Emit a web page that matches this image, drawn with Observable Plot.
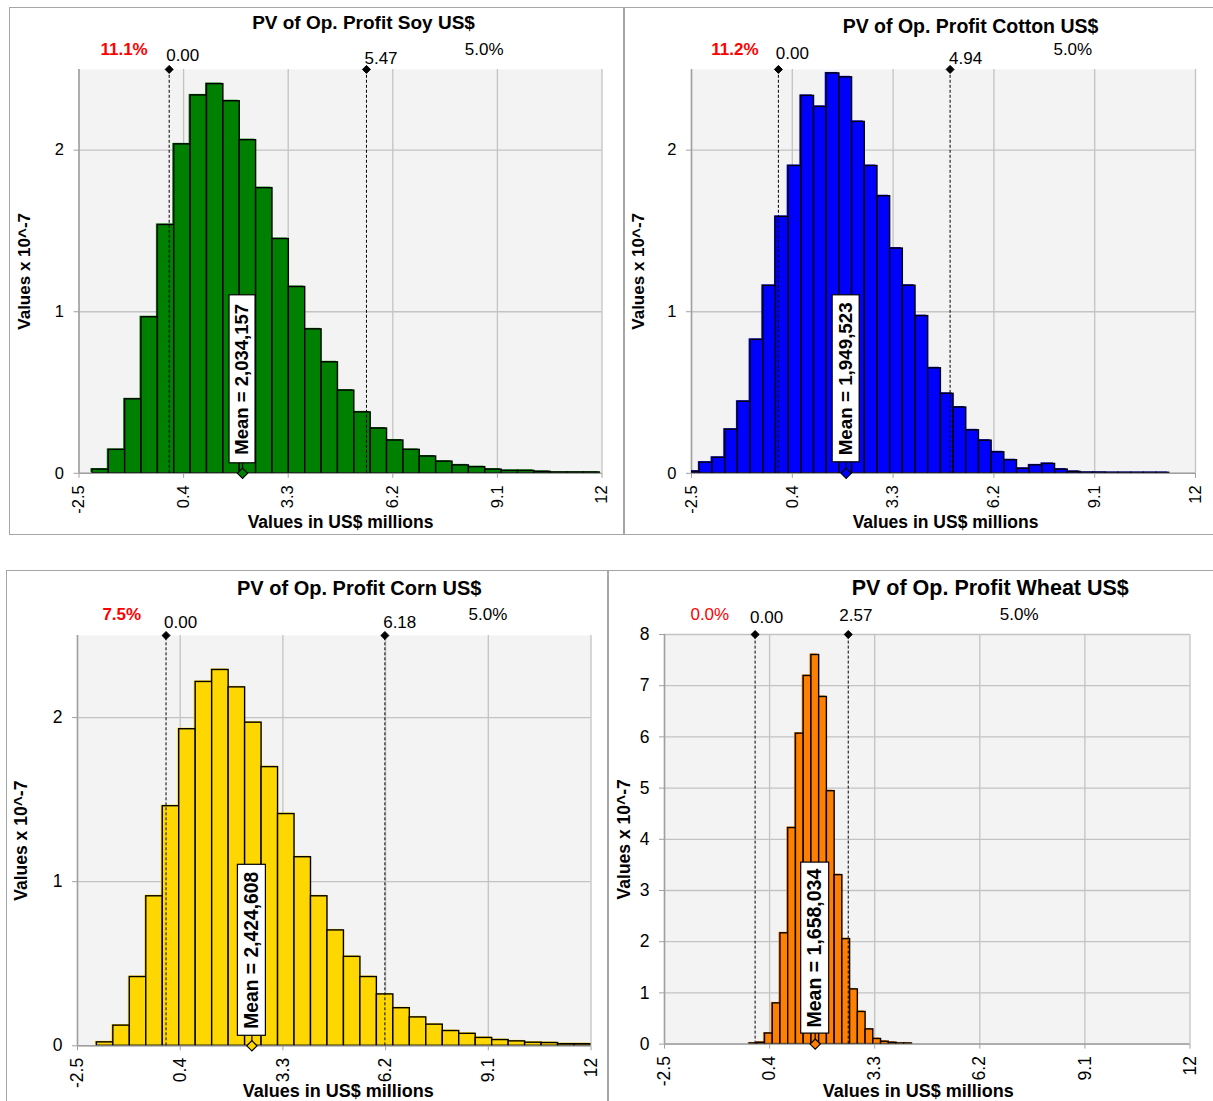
<!DOCTYPE html>
<html>
<head>
<meta charset="utf-8">
<script src="https://cdn.jsdelivr.net/npm/d3@7"></script>
<script src="https://cdn.jsdelivr.net/npm/@observablehq/plot@0.6"></script>
<style>
html, body { margin: 0; padding: 0; background: #fff; overflow: hidden; }
#root { position: relative; width: 1213px; height: 1101px; font-family: Arial, "Liberation Sans", sans-serif; overflow: hidden; }
.holder { position: absolute; }
.holder svg { overflow: visible; }
.border { position: absolute; box-sizing: border-box; border: 1.5px solid #a6a6a6; pointer-events: none; }
</style>
</head>
<body>
<div id="root"></div>
<script>
// ---------------- DATA ----------------
const xTicks = [-2.5, 0.4, 3.3, 6.2, 9.1, 12];
const xTickLabels = ["-2.5", "0.4", "3.3", "6.2", "9.1", "12"];

const titles = [
  "PV of Op. Profit Soy US$",
  "PV of Op. Profit Cotton US$",
  "PV of Op. Profit Corn US$",
  "PV of Op. Profit Wheat US$"
];
const xLabel = "Values in US$ millions";
const yLabel = "Values x 10^-7";

// histogram bar heights (values x 10^-7)
const soyHeights = [0.023, 0.145, 0.458, 0.966, 1.537, 2.036, 2.339, 2.409, 2.303, 2.062, 1.765, 1.450, 1.153, 0.891, 0.687, 0.512, 0.377, 0.277, 0.203, 0.145, 0.104, 0.072, 0.049, 0.038, 0.023, 0.015, 0.015, 0.009, 0.005, 0.005, 0.005];
const cottonHeights = [0.010, 0.066, 0.096, 0.270, 0.443, 0.826, 1.160, 1.587, 1.902, 2.336, 2.268, 2.475, 2.451, 2.175, 1.902, 1.715, 1.391, 1.161, 0.973, 0.650, 0.492, 0.407, 0.266, 0.202, 0.130, 0.081, 0.028, 0.049, 0.058, 0.023, 0.009, 0.004, 0.004, 0.003, 0.003, 0.003, 0.003, 0.003];
const cornHeights = [0.021, 0.123, 0.419, 0.911, 1.460, 1.929, 2.217, 2.290, 2.184, 1.969, 1.698, 1.412, 1.149, 0.911, 0.703, 0.542, 0.419, 0.313, 0.229, 0.173, 0.129, 0.090, 0.073, 0.048, 0.035, 0.027, 0.019, 0.017, 0.010, 0.010];
const wheatHeights = [0.013, 0.027, 0.207, 0.795, 2.164, 4.220, 6.063, 7.190, 7.600, 6.780, 4.940, 3.300, 2.050, 1.068, 0.628, 0.287, 0.100, 0.047, 0.027, 0.013, 0.013];

// first bin lower edge and bin width (US$ millions)
const binStarts = [-2.128, -2.625, -1.953, -0.154];
const binWidths = [0.4538, 0.365, 0.4651, 0.2135];

const means = [2034157, 1949523, 2424608, 1658034];
const lowerCuts = [0.00, 0.00, 0.00, 0.00];
const upperCuts = [5.47, 4.94, 6.18, 2.57];
const leftPcts = ["11.1%", "11.2%", "7.5%", "0.0%"];
const rightPcts = ["5.0%", "5.0%", "5.0%", "5.0%"];
const yMaxes = [2.5, 2.5, 2.5, 8];
const yTickSets = [[0, 1, 2], [0, 1, 2], [0, 1, 2], [0, 1, 2, 3, 4, 5, 6, 7, 8]];

const heightSets = [soyHeights, cottonHeights, cornHeights, wheatHeights];

// ---------------- STYLE / LAYOUT ----------------
const colors = ["#008000", "#0000ff", "#ffd700", "#ff8000"];
const layout = [
  {svg: [9, 7, 615, 528], plot: [78.5, 601.5, 68.9, 472.8], border: [9, 7, 615, 528],
   titleSize: 19, titleDx: 23, titleDy: -40, pctDy: -14.4, loDx: -3, loDy: -8, hiDx: -2, hiDy: -5, pctBold: true,
   tickFont: 16.5, yLabDx: -54.5, yLabSize: 17, xLabSize: 17.5, xLabDx: 0, xLabDy: 55,
   meanFont: 18.5, boxW: 26, boxH: 168, boxGap: 10},
  {svg: [624, 7, 589, 528], plot: [691, 1195, 68.9, 472.8], border: [624, 7, 600, 528],
   titleSize: 19.5, titleDx: 27, titleDy: -36, pctDy: -14.4, loDx: -2.6, loDy: -10.4, hiDx: -1, hiDy: -5.2, pctBold: true,
   tickFont: 16.5, yLabDx: -53, yLabSize: 17, xLabSize: 17.5, xLabDx: 2, xLabDy: 55,
   meanFont: 18.8, boxW: 27, boxH: 167, boxGap: 11},
  {svg: [6, 570, 602, 531], plot: [77, 590.5, 635, 1045.3], border: [6, 570, 602, 540],
   titleSize: 20, titleDx: 25, titleDy: -40.3, pctDy: -15.3, loDx: -2, loDy: -7.4, hiDx: -1.7, hiDy: -7.4, pctBold: true,
   tickFont: 17.5, yLabDx: -56.6, yLabSize: 17.5, xLabSize: 18, xLabDx: 4, xLabDy: 51,
   meanFont: 19.3, boxW: 28, boxH: 171, boxGap: 10},
  {svg: [608, 570, 605, 531], plot: [664, 1189.5, 634, 1043.6], border: [608, 570, 610, 540],
   titleSize: 21.5, titleDx: 63, titleDy: -40, pctDy: -15, loDx: -5, loDy: -11.6, hiDx: -9, hiDy: -13.6, pctBold: false,
   tickFont: 17.5, yLabDx: -40.6, yLabSize: 17.5, xLabSize: 18, xLabDx: -9, xLabDy: 52.5,
   meanFont: 19.5, boxW: 28, boxH: 171, boxGap: 10.5}
];
const FONT = "Arial, 'Liberation Sans', sans-serif";
const gridColor = "#c3c3c3";
const axisColor = "#a0a0a0";
const plotBg = "#f3f3f3";

const root = document.getElementById("root");
const fmtComma = d3.format(",");
const fmt2 = d3.format(".2f");

function makePanel(i) {
  const L = layout[i];
  const [sx, sy, sw, sh] = L.svg;
  const [pl, pr, pt, pb] = L.plot;
  const color = colors[i];
  const start = binStarts[i], bw = binWidths[i];
  const bins = heightSets[i].map((h, k) => ({x0: start + k * bw, x1: start + (k + 1) * bw, h}));
  const xMin = xTicks[0], xMax = xTicks[xTicks.length - 1];
  const yMax = yMaxes[i];
  const lo = lowerCuts[i], hi = upperCuts[i];
  const mean = means[i] / 1e6;
  const meanText = "Mean = " + fmtComma(means[i]);

  const chart = Plot.plot({
    width: sw, height: sh,
    marginLeft: pl - sx, marginRight: sx + sw - pr,
    marginTop: pt - sy, marginBottom: sy + sh - pb,
    style: {fontFamily: FONT, background: "transparent", overflow: "visible", color: "black"},
    x: {domain: [xMin, xMax]},
    y: {domain: [0, yMax]},
    marks: [
      Plot.frame({fill: plotBg, stroke: "none"}),
      Plot.ruleX(xTicks, {x: d => d, stroke: gridColor, strokeWidth: 1.3}),
      Plot.ruleY(yTickSets[i], {y: d => d, stroke: gridColor, strokeWidth: 1.3}),
      Plot.ruleX([xMin], {x: d => d, stroke: axisColor, strokeWidth: 1.5}),
      Plot.ruleY([0], {y: d => d, stroke: axisColor, strokeWidth: 1.5}),
      Plot.axisX({ticks: xTicks, tickFormat: d => xTickLabels[xTicks.indexOf(d)], tickRotate: -90,
        tickSize: 5, tickPadding: 7, label: null, stroke: axisColor, fill: "black", fontSize: L.tickFont}),
      Plot.axisY({ticks: yTickSets[i], tickFormat: d => String(d), tickSize: 5, tickPadding: 10,
        label: null, stroke: axisColor, fill: "black", fontSize: L.tickFont}),
      // bars: shadow fill then outlined bar
      Plot.rect(bins, {x1: "x0", x2: "x1", y1: 0, y2: "h", fill: color, dx: -1.5, dy: -1, clip: true}),
      Plot.rect(bins, {x1: "x0", x2: "x1", y1: 0, y2: "h", fill: color, stroke: "black", strokeWidth: 1.4, clip: true}),
      // cut-off lines
      Plot.ruleX([lo, hi], {x: d => d, y1: 0, y2: yMax, stroke: "black", strokeWidth: 1, strokeDasharray: "3,2"}),
      Plot.dot([lo, hi], {x: d => d, y: yMax, symbol: "diamond2", r: 3.6, fill: "black", stroke: "black", strokeWidth: 1}),
      // mean label box
      Plot.ruleX([mean], {x: d => d, y1: 0, y2: 0, insetTop: -L.boxGap, stroke: "black", strokeWidth: 1.2}),
      Plot.rect([mean], {x1: d => d, x2: d => d, y1: 0, y2: 0,
        insetLeft: -L.boxW / 2, insetRight: -L.boxW / 2, insetTop: -(L.boxGap + L.boxH), insetBottom: L.boxGap,
        fill: "white", stroke: "black", strokeWidth: 1.2}),
      Plot.text([meanText], {x: mean, y: 0, text: d => d, rotate: -90, textAnchor: "middle", lineAnchor: "middle",
        dy: -(L.boxGap + L.boxH / 2), fontSize: L.meanFont, fontWeight: "bold", fill: "black"}),
      Plot.dot([mean], {x: d => d, y: 0, symbol: "diamond2", r: 4.6, fill: color, stroke: "black", strokeWidth: 1.2}),
      // percentages
      Plot.text([{x: (xMin + lo) / 2, t: leftPcts[i]}], {x: "x", y: yMax, text: "t", dy: L.pctDy, lineAnchor: "bottom",
        fill: "#ff0000", fontWeight: L.pctBold ? "bold" : "normal", fontSize: 17}),
      Plot.text([{x: (hi + xMax) / 2, t: rightPcts[i]}], {x: "x", y: yMax, text: "t", dy: L.pctDy, lineAnchor: "bottom",
        fill: "black", fontSize: 17}),
      // cut-off values
      Plot.text([lo], {x: d => d, y: yMax, text: d => fmt2(d), textAnchor: "start", lineAnchor: "bottom",
        dx: L.loDx, dy: L.loDy, fill: "black", fontSize: 17}),
      Plot.text([hi], {x: d => d, y: yMax, text: d => fmt2(d), textAnchor: "start", lineAnchor: "bottom",
        dx: L.hiDx, dy: L.hiDy, fill: "black", fontSize: 17}),
      // title and axis labels
      Plot.text([titles[i]], {frameAnchor: "top", text: d => d, dx: L.titleDx, dy: L.titleDy, lineAnchor: "bottom",
        fontSize: L.titleSize, fontWeight: "bold", fill: "black"}),
      Plot.text([xLabel], {frameAnchor: "bottom", text: d => d, dx: L.xLabDx, dy: L.xLabDy, lineAnchor: "bottom",
        fontSize: L.xLabSize, fontWeight: "bold", fill: "black"}),
      Plot.text([yLabel], {frameAnchor: "left", text: d => d, rotate: -90, dx: L.yLabDx, textAnchor: "middle",
        lineAnchor: "middle", fontSize: L.yLabSize, fontWeight: "bold", fill: "black"})
    ]
  });

  const holder = document.createElement("div");
  holder.className = "holder";
  holder.style.left = sx + "px";
  holder.style.top = sy + "px";
  holder.style.width = sw + "px";
  holder.style.height = sh + "px";
  holder.appendChild(chart);
  root.appendChild(holder);
}

for (let i = 0; i < 4; i++) makePanel(i);

for (const L of layout) {
  const [bx, by, bw, bh] = L.border;
  const b = document.createElement("div");
  b.className = "border";
  b.style.left = bx + "px";
  b.style.top = by + "px";
  b.style.width = bw + "px";
  b.style.height = bh + "px";
  root.appendChild(b);
}
</script>
</body>
</html>
